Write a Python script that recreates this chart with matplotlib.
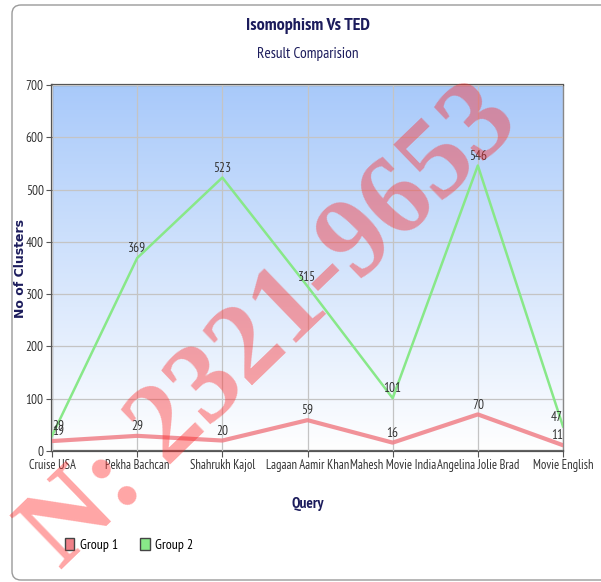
import matplotlib
matplotlib.use("Agg")

import matplotlib.pyplot as plt
import numpy as np
from matplotlib.patches import FancyBboxPatch, Patch

queries = ["Cruise USA", "Pekha Bachcan", "Shahrukh Kajol", "Lagaan Aamir Khan",
           "Mahesh Movie India", "Angelina Jolie Brad", "Movie English"]
group1 = [19, 29, 20, 59, 16, 70, 11]
group2 = [29, 369, 523, 315, 101, 546, 47]
yticks = [0, 100, 200, 300, 400, 500, 600, 700]

narrow = ["PT Sans Narrow", "Archivo Narrow", "DejaVu Sans"]
navy = "#1c1c5c"
tick_col = "#333333"

W, H = 601, 582
fig = plt.figure(figsize=(W / 100, H / 100), dpi=100)

# outer rounded frame
frame = FancyBboxPatch((12 / W, 1 - 580 / H), 600 / W, 575 / H,
                       boxstyle="round,pad=0,rounding_size=0.015",
                       transform=fig.transFigure, fill=False,
                       edgecolor="#9a9a9a", lw=1.0)
fig.patches.append(frame)

ax = fig.add_axes([52 / W, 1 - 451 / H, (563 - 52) / W, (451 - 85) / H])

# gradient background, light blue at top to white
grad = np.linspace(0, 1, 256).reshape(-1, 1)
top = np.array([0.66, 0.79, 0.98])
bot = np.array([1.0, 1.0, 1.0])
img = top * (1 - grad)[..., None] + bot * grad[..., None]
ax.imshow(img, extent=[0, 1, 0, 1], transform=ax.transAxes, aspect="auto", zorder=0)

x = np.arange(len(queries))
ax.plot(x, group1, color="#f08088", lw=3.0, alpha=0.85, zorder=3, solid_capstyle="round")
ax.plot(x, group2, color="#88e888", lw=1.8, zorder=3)

for serie in (group1, group2):
    for xi, v in zip(x, serie):
        ha = "left" if xi == 0 else ("right" if xi == len(x) - 1 else "center")
        ax.annotate(str(v), (xi, v), xytext=(0, 2), textcoords="offset points",
                    ha=ha, va="bottom", fontsize=9.5, family=narrow, color=tick_col, zorder=4)

ax.set_xlim(0, len(queries) - 1)
ax.set_ylim(0, 700)
ax.set_yticks(yticks)
ax.set_xticks(x)
ax.set_xticklabels(queries, fontsize=9, family=narrow, color=tick_col)
ax.set_yticklabels([str(t) for t in yticks], fontsize=9.5, family=narrow, color=tick_col)
ax.tick_params(axis="both", length=4, color="#555555", pad=2)

ax.grid(True, color="#c4c4c4", lw=0.9, zorder=1)
ax.set_axisbelow(False)
for s in ["left", "bottom", "top"]:
    ax.spines[s].set_color("#555555")
    ax.spines[s].set_linewidth(1.6)
ax.spines["right"].set_color("#888888")
ax.spines["right"].set_linewidth(1.0)

ax.set_ylabel("No of Clusters", fontsize=9, fontweight="bold", color=navy)
ax.yaxis.set_label_coords((27 - 52) / 511, 0.5)
ax.set_xlabel("Query", fontsize=11, fontweight="bold", family=narrow, color=navy)
ax.xaxis.set_label_coords(0.5, -(497 - 451) / 366)

fig.text(308 / W, 1 - 26 / H, "Isomophism Vs TED", ha="center", va="center",
         fontsize=13, fontweight="bold", family=narrow, color=navy)
fig.text(308 / W, 1 - 54 / H, "Result Comparision", ha="center", va="center",
         fontsize=11, family=narrow, color=navy)

handles = [Patch(facecolor="#f08088", edgecolor="#444444", label="Group 1"),
           Patch(facecolor="#88e888", edgecolor="#444444", label="Group 2")]
fig.legend(handles=handles, loc="center left", bbox_to_anchor=(52 / W, 1 - 545 / H),
           ncol=2, frameon=False, handlelength=0.7, handleheight=1.0,
           handletextpad=0.4, columnspacing=1.6,
           prop={"family": narrow, "size": 10})

# watermark
fig.text(272 / W, 1 - 328 / H, "N: 2321-9653", ha="center", va="center",
         rotation=44, fontsize=82, fontweight="bold", family="Liberation Serif",
         color="#ff2a2a", alpha=0.42, zorder=10)

fig.savefig("out.png", dpi=100)
